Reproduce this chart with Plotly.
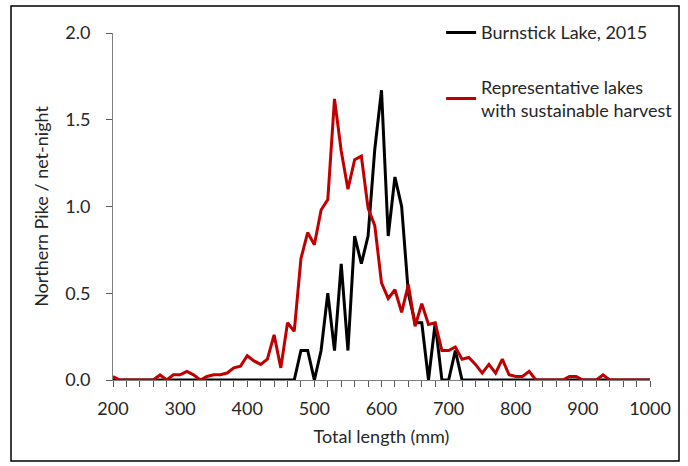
import plotly.graph_objects as go

length_mm = [200, 210, 220, 230, 240, 250, 260, 270, 280, 290,
             300, 310, 320, 330, 340, 350, 360, 370, 380, 390,
             400, 410, 420, 430, 440, 450, 460, 470, 480, 490,
             500, 510, 520, 530, 540, 550, 560, 570, 580, 590,
             600, 610, 620, 630, 640, 650, 660, 670, 680, 690,
             700, 710, 720, 730, 740, 750, 760, 770, 780, 790,
             800, 810, 820, 830, 840, 850, 860, 870, 880, 890,
             900, 910, 920, 930, 940, 950, 960, 970, 980, 990, 1000]

burnstick_2015 = [0, 0, 0, 0, 0, 0, 0, 0, 0, 0,
                  0, 0, 0, 0, 0, 0, 0, 0, 0, 0,
                  0, 0, 0, 0, 0, 0, 0, 0, 0.17, 0.17,
                  0, 0.17, 0.5, 0.17, 0.67, 0.17, 0.83, 0.67, 0.83, 1.33,
                  1.67, 0.83, 1.17, 1.0, 0.5, 0.33, 0.33, 0, 0.33, 0,
                  0, 0.17, 0, 0, 0, 0, 0, 0, 0, 0,
                  0, 0, 0, 0, 0, 0, 0, 0, 0, 0,
                  0, 0, 0, 0, 0, 0, 0, 0, 0, 0, 0]

representative = [0.02, 0, 0, 0, 0, 0, 0, 0.03, 0, 0.03,
                  0.03, 0.05, 0.03, 0, 0.02, 0.03, 0.03, 0.04, 0.07, 0.08,
                  0.14, 0.11, 0.09, 0.12, 0.26, 0.07, 0.33, 0.28, 0.70, 0.85,
                  0.78, 0.98, 1.04, 1.62, 1.32, 1.10, 1.27, 1.29, 0.99, 0.89,
                  0.56, 0.47, 0.52, 0.39, 0.55, 0.31, 0.44, 0.32, 0.33, 0.17,
                  0.17, 0.19, 0.12, 0.13, 0.09, 0.04, 0.09, 0.04, 0.12, 0.03,
                  0.02, 0.02, 0.05, 0, 0, 0, 0, 0, 0.02, 0.02,
                  0, 0, 0, 0.03, 0, 0, 0, 0, 0, 0, 0]

series_names = ["Burnstick Lake, 2015",
                "Representative lakes<br>with sustainable harvest"]
series_colors = ["#000000", "#C00000"]

x_ticks = [200, 300, 400, 500, 600, 700, 800, 900, 1000]
y_ticks = [0, 0.5, 1.0, 1.5, 2.0]

FONT = "Lato, 'Open Sans', sans-serif"
FS = 18

fig = go.Figure()
for i, (name, vals, col) in enumerate(zip(series_names, [burnstick_2015, representative], series_colors)):
    fig.add_trace(go.Scatter(
        x=length_mm, y=vals, mode="lines", name=name, legendgroup=f"g{i}",
        line=dict(color=col, width=3), cliponaxis=False,
    ))

fig.update_layout(
    width=688, height=466,
    margin=dict(l=113, r=38, t=33, b=86, autoexpand=False),
    paper_bgcolor="white", plot_bgcolor="white",
    font=dict(family=FONT, size=FS, color="#262626"),
    showlegend=True,
    legend=dict(
        x=0.611, y=1.054, xanchor="left", yanchor="top",
        bgcolor="rgba(0,0,0,0)", borderwidth=0,
        font=dict(family=FONT, size=FS, color="#262626"),
        tracegroupgap=28, itemwidth=30,
    ),
    xaxis=dict(
        range=[200, 1000], tickvals=x_ticks, ticks="outside", ticklen=6,
        tickcolor="#595959", showline=True, linecolor="#7f7f7f", linewidth=1,
        showgrid=False, zeroline=False,
        tickfont=dict(size=FS), ticklabelstandoff=6,
        minor=dict(dtick=20, tick0=200, ticks="outside", ticklen=6, tickcolor="#595959", showgrid=False),
        title=dict(text="Total length (mm)", font=dict(size=FS), standoff=12),
    ),
    yaxis=dict(
        range=[0, 2.0], tickvals=y_ticks, tickformat=".1f", ticks="outside", ticklen=6,
        tickcolor="#595959", showline=True, linecolor="#7f7f7f", linewidth=1,
        showgrid=False, zeroline=False,
        tickfont=dict(size=FS), ticklabelstandoff=12,
        title=dict(text="Northern Pike / net-night", font=dict(size=FS), standoff=11),
    ),
    shapes=[dict(type="rect", xref="paper", yref="paper",
                 x0=(11 - 113) / 537, x1=(679 - 113) / 537,
                 y0=(380 - 461) / 347, y1=(380 - 6) / 347,
                 line=dict(color="#000000", width=1.5), fillcolor="rgba(0,0,0,0)", layer="below")],
)

fig.write_html("out.html")
